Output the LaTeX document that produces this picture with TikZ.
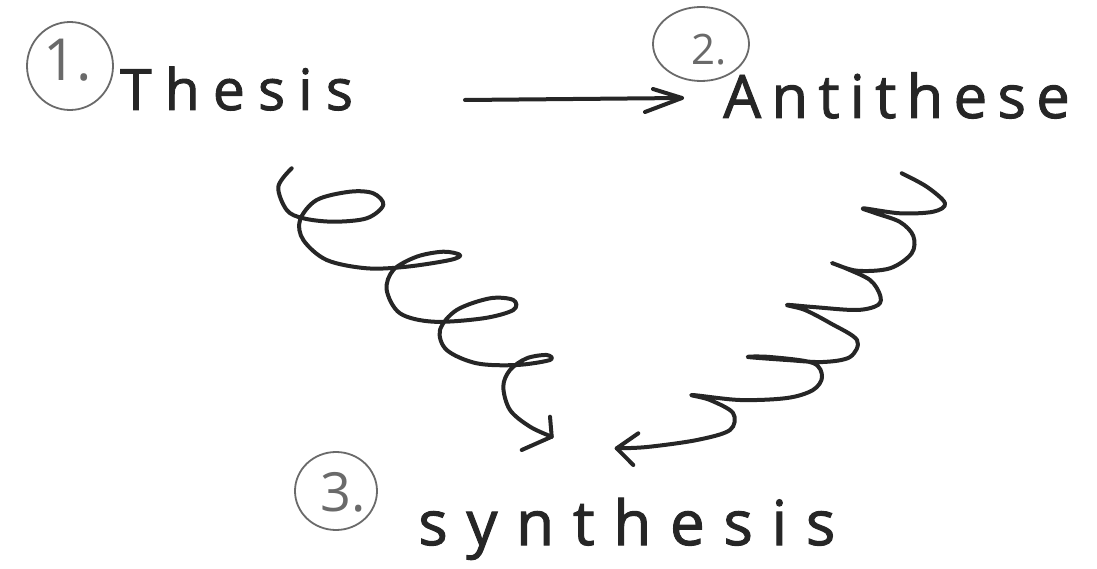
\documentclass[tikz,border=0pt]{standalone}
\usepackage{fontspec}
\usetikzlibrary{shapes.geometric}
\setmainfont{Open Sans}
\newfontfamily\handT[LetterSpace=23,FakeBold=1.6]{Open Sans}
\newfontfamily\handA[LetterSpace=17,FakeBold=1.6]{Open Sans}
\newfontfamily\handS[LetterSpace=30,FakeBold=1.6]{Open Sans}
\newfontfamily\handN{Open Sans}
\definecolor{ink}{HTML}{262626}
\definecolor{pencil}{HTML}{6A6A6A}
\tikzset{
  pen/.style={draw=ink, line width=4pt, line cap=round, line join=round},
  ring/.style={draw=pencil, line width=1.8pt},
  word/.style={text=ink, inner sep=0pt, anchor=base west},
  num/.style={text=pencil, inner sep=0pt},
}
\begin{document}
\begin{tikzpicture}[x=1pt,y=-1pt]
\useasboundingbox (0,0) rectangle (1097,569);
% words
\node[word, font=\handT\fontsize{57}{60}\selectfont] (thesis) at (120,110) {Thesis};
\node[word, font=\handA\fontsize{60}{64}\selectfont] (anti) at (723,118) {Antithese};
\node[word, font=\handS\fontsize{62}{66}\selectfont] (synth) at (418,545) {synthesis};
% circled numbers
\node[ring, ellipse, minimum width=86pt, minimum height=88pt, inner sep=0pt] (c1) at (70,66) {};
\node[num, font=\handN\fontsize{58}{60}\selectfont] (n1) at (68,60) {1.};
\node[ring, ellipse, minimum width=96pt, minimum height=74pt, inner sep=0pt] (c2) at (701,44) {};
\node[num, font=\handN\fontsize{42}{46}\selectfont] (n2) at (709,50) {2.};
\node[ring, ellipse, minimum width=82pt, minimum height=78pt, inner sep=0pt] (c3) at (336,491) {};
\node[num, font=\handN\fontsize{54}{58}\selectfont] (n3) at (343,492) {3.};
% main arrow
\coordinate (a1) at (465,100);
\coordinate (a2) at (682,98);
\coordinate (a2u) at (653,89);
\coordinate (a2d) at (645,112);
\draw[pen] (a1) -- (a2);
\draw[pen] (a2u) -- (a2) -- (a2d);
% left coil
\coordinate (lt) at (551.7,436.7);
\coordinate (lu) at (550,416.7);
\coordinate (ld) at (521.7,450);
\draw[pen] plot[smooth, tension=0.55] coordinates {
(291.7,168.3) (278.3,186.7) (286.7,210) (303.3,218.3) (333.3,221.7) (366.7,218.3)
(383.3,205) (373.3,193.3) (350,191.7) (316.7,200) (300,220) (303.3,240)
(326.7,260) (366.7,268.3) (406.7,266.7) (450,260) (460,255) (443.3,251.7)
(416.7,256.7) (393.3,270) (386.7,290) (400,313.3) (433.3,321.7) (483.3,318.3)
(513.3,310) (513.3,300) (490,298.3) (456.7,310) (440,330) (446.7,350)
(476.7,363.3) (516.7,365) (550,360) (546.7,355) (526.7,358.3) (510,370)
(503.3,386.7) (510,410) (530,426.7) (551.7,436.7)};
\draw[pen] (lu) -- (lt) -- (ld);
% right coil
\coordinate (rt) at (616.7,448.3);
\coordinate (ru) at (638.3,433.3);
\coordinate (rd) at (633.3,465);
\draw[pen] plot[smooth, tension=0.55] coordinates {
(901.7,173.3) (926.7,186.7) (945,203.3) (933.3,211.7) (900,213.3) (863.3,208.3)
(875,213) (900,222) (913.3,236) (911.7,253.3) (890,268.3) (856.7,270.7)
(832,263) (845,268) (870,280) (880,295) (878,305) (856.7,310)
(813,307) (787,305) (805,310) (830,323) (857,340) (850,357)
(823,362) (787,360) (748,357) (770,357) (813,363) (822,377)
(813,390) (787,398) (740,400) (692,395) (710,400) (733,413)
(730,430) (697,440) (647,447) (616.7,448.3)};
\draw[pen] (ru) -- (rt) -- (rd);
\end{tikzpicture}
\end{document}
